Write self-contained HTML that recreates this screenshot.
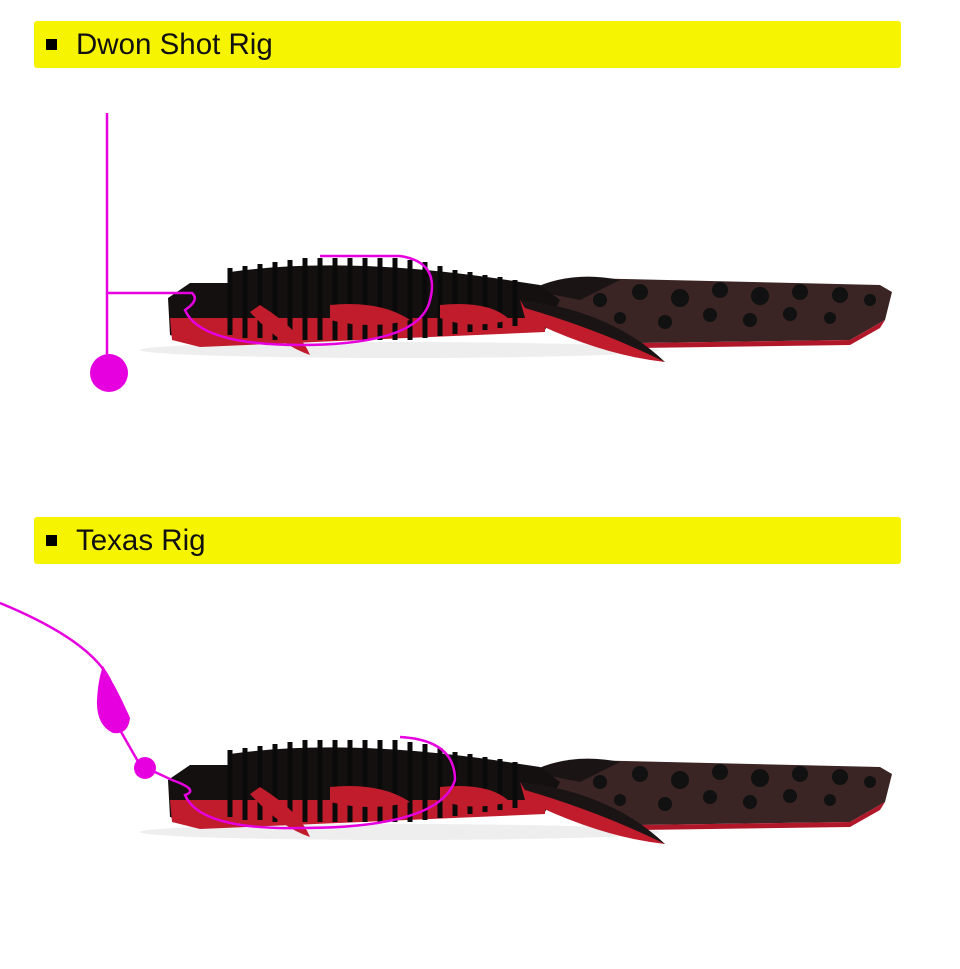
<!DOCTYPE html>
<html><head><style>
body{margin:0;background:#fff;width:960px;height:969px;overflow:hidden;font-family:"Liberation Sans",sans-serif}
.h{position:absolute;left:34px;width:867px;height:47px;background:#f7f400;border-radius:3px}
.h i{position:absolute;left:12px;top:18px;width:11px;height:11px;background:#000}
.h span{position:absolute;left:42px;top:7px;font-size:29.5px;color:#111}
svg{position:absolute;left:0;top:0}
</style></head><body>
<div class="h" style="top:21px"><i></i><span>Dwon Shot Rig</span></div>
<div class="h" style="top:517px"><i></i><span>Texas Rig</span></div>
<svg width="960" height="969" viewBox="0 0 960 969">
<defs>
<g id="lure">
<ellipse cx="400" cy="350" rx="260" ry="8" fill="#eee"/>
<path d="M540 290 L580 278 L880 285 L892 292 L885 320 L850 340 L640 343 L560 330 Z" fill="#3a2424"/>
<path d="M560 330 L640 343 L850 340 L885 320 L880 328 L850 345 L640 348 Z" fill="#b0182a"/>
<path d="M530 290 Q570 270 620 280 L580 300 Z" fill="#1a1414"/>
<g fill="#111">
<circle cx="600" cy="300" r="7"/><circle cx="640" cy="292" r="8"/><circle cx="680" cy="298" r="9"/><circle cx="720" cy="290" r="8"/><circle cx="760" cy="296" r="9"/><circle cx="800" cy="292" r="8"/><circle cx="840" cy="295" r="8"/><circle cx="870" cy="300" r="6"/>
<circle cx="620" cy="318" r="6"/><circle cx="665" cy="322" r="7"/><circle cx="710" cy="315" r="7"/><circle cx="750" cy="320" r="7"/><circle cx="790" cy="314" r="7"/><circle cx="830" cy="318" r="6"/>
</g>
<path d="M168 298 L190 283 L228 283 L230 272 Q350 255 520 282 L540 285 L560 300 L545 330 L200 345 L170 335 Z" fill="#141010"/>
<path d="M170 318 L545 318 L545 332 L200 347 L172 340 Z" fill="#c01c2c"/>
<g stroke="#0a0a0a" stroke-width="5">
<path d="M230 268V335M245 266V338M260 264V338M275 262V340M290 260V340M305 258V340M320 258V340M335 258V340M350 258V340M365 258V340M380 258V340M395 258V340M410 260V340M425 262V338M440 266V336M455 270V334M470 272V332M485 275V330M500 277V328M515 280V326"/>
</g>
<path d="M260 305 Q300 330 310 355 Q280 345 250 312Z" fill="#c01c2c"/>
<path d="M330 305 Q380 300 410 320 Q370 330 330 320Z" fill="#c01c2c"/>
<path d="M440 305 Q490 300 510 320 Q470 330 440 318Z" fill="#c01c2c"/>
<path d="M520 300 Q610 320 665 362 Q600 355 525 318Z" fill="#c01c2c"/>
<path d="M520 300 Q610 310 665 362 Q600 330 525 308Z" fill="#1a1414"/>
</g>
</defs>
<use href="#lure"/>
<use href="#lure" y="482"/>
<g stroke="#e600e0" stroke-width="2.5" fill="none">
<path d="M107 113V373M107 293H192 Q200 300 185 310 Q200 345 300 345 Q420 345 430 300 Q440 262 400 256 L320 256"/>
<path d="M0 603 Q90 640 110 680 M120 730 L140 765 L172 780 Q200 790 185 795 Q200 830 300 828 Q440 828 455 780 Q455 740 400 737"/>
</g>
<circle cx="109" cy="373" r="19" fill="#e600e0"/>
<path d="M103 666 Q118 690 130 718 Q128 735 113 733 Q96 725 97 700 Q98 680 103 666Z" fill="#e600e0"/>
<circle cx="145" cy="768" r="11" fill="#e600e0"/>
</svg>
</body></html>
